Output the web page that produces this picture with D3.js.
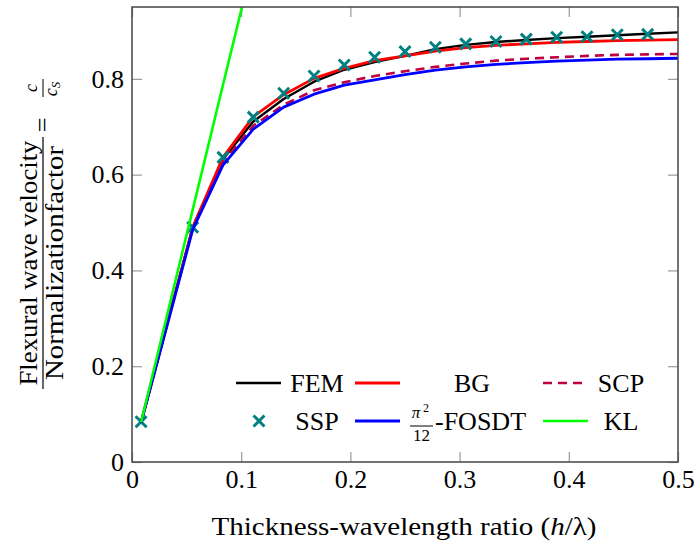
<!DOCTYPE html>
<html>
<head>
<meta charset="utf-8">
<script src="https://cdn.jsdelivr.net/npm/d3@7"></script>
<style>
  body { margin: 0; background: #fff; }
</style>
</head>
<body>
<div id="chart"></div>
<script>
// sample points (h/lambda)
const xs = [0.00833, 0.0556, 0.0833, 0.1111, 0.1389, 0.1667, 0.1944, 0.2222, 0.25,
  0.2778, 0.3056, 0.3333, 0.3611, 0.3889, 0.4167, 0.4444, 0.4722, 0.5];

const fem   = [0.083, 0.490, 0.632, 0.711, 0.758, 0.794, 0.819, 0.835, 0.848,
  0.862, 0.871, 0.877, 0.881, 0.885, 0.888, 0.891, 0.894, 0.897];
const bg    = [0.083, 0.490, 0.636, 0.721, 0.767, 0.801, 0.822, 0.838, 0.848,
  0.858, 0.865, 0.870, 0.873, 0.876, 0.878, 0.880, 0.881, 0.882];
const scp   = [0.083, 0.488, 0.625, 0.702, 0.746, 0.776, 0.793, 0.806, 0.816,
  0.825, 0.832, 0.838, 0.842, 0.845, 0.848, 0.850, 0.851, 0.852];
const fosdt = [0.082, 0.485, 0.620, 0.695, 0.741, 0.768, 0.787, 0.798, 0.809,
  0.818, 0.825, 0.830, 0.834, 0.837, 0.839, 0.841, 0.842, 0.843];

const sspX = xs.slice(0, 17);
const ssp  = [0.084, 0.490, 0.636, 0.720, 0.770, 0.806, 0.829, 0.845, 0.857,
  0.866, 0.873, 0.878, 0.883, 0.887, 0.888, 0.892, 0.893];

const klX = [0.00833, 0.0556, 0.0833, 0.1111];
const kl  = [0.083, 0.527, 0.787, 1.047];

const xTicks = [0, 0.1, 0.2, 0.3, 0.4, 0.5];
const yTicks = [0, 0.2, 0.4, 0.6, 0.8];

const W = 696, H = 541;
const margin = {top: 7, right: 18, bottom: 79, left: 132};
const FONT = "Liberation Serif";

const svg = d3.select("#chart").append("svg")
  .attr("width", W).attr("height", H);

const x = d3.scaleLinear().domain([0, 0.5]).range([margin.left, W - margin.right]);
const y = d3.scaleLinear().domain([0, 0.95]).range([H - margin.bottom, margin.top]);

svg.append("clipPath").attr("id", "clip")
  .append("rect")
  .attr("x", x(0)).attr("y", y(0.95))
  .attr("width", x(0.5) - x(0)).attr("height", y(0) - y(0.95));

// axes, ticks inside on all four sides
const fmt = d3.format("");
const styleAxis = g => {
  g.select(".domain").remove();
  g.selectAll(".tick line").attr("stroke", "#9a9a9a").attr("stroke-width", 1.2);
};

svg.append("g")
  .attr("transform", "translate(0," + y(0) + ")")
  .call(d3.axisBottom(x).tickValues(xTicks).tickSize(-10).tickPadding(8).tickFormat(fmt))
  .call(styleAxis);
svg.append("g")
  .attr("transform", "translate(0," + y(0.95) + ")")
  .call(d3.axisTop(x).tickValues(xTicks).tickSize(-10).tickFormat(""))
  .call(styleAxis);
svg.append("g")
  .attr("transform", "translate(" + x(0) + ",0)")
  .call(d3.axisLeft(y).tickValues(yTicks).tickSize(-10).tickPadding(8).tickFormat(fmt))
  .call(styleAxis);
svg.append("g")
  .attr("transform", "translate(" + x(0.5) + ",0)")
  .call(d3.axisRight(y).tickValues(yTicks).tickSize(-10).tickFormat(""))
  .call(styleAxis);

// lines
const line = d3.line().x(d => x(d[0])).y(d => y(d[1]));
const plot = svg.append("g").attr("clip-path", "url(#clip)");

const series = [
  {name: "FEM", xv: xs, yv: fem, color: "#000000", width: 2.4},
  {name: "BG", xv: xs, yv: bg, color: "#ff0000", width: 2.8},
  {name: "SCP", xv: xs, yv: scp, color: "#bf0040", width: 2.6, dash: "9,6"},
  {name: "FOSDT", xv: xs, yv: fosdt, color: "#0000ff", width: 2.8},
  {name: "KL", xv: klX, yv: kl, color: "#00ff00", width: 2.6}
];

series.slice(0, 3).forEach(s => drawLine(s));

// SSP markers
const cross = d3.symbol().type(d3.symbolX).size(80);
plot.selectAll(".ssp")
  .data(sspX.map((v, i) => [v, ssp[i]]))
  .enter()
  .append("path")
  .attr("class", "ssp")
  .attr("d", cross)
  .attr("transform", d => "translate(" + x(d[0]) + "," + y(d[1]) + ")")
  .attr("fill", "none")
  .attr("stroke", "#008080")
  .attr("stroke-width", 3);

series.slice(3).forEach(s => drawLine(s));

function drawLine(s) {
  plot.append("path")
    .datum(s.xv.map((v, i) => [v, s.yv[i]]))
    .attr("d", line)
    .attr("fill", "none")
    .attr("stroke", s.color)
    .attr("stroke-width", s.width)
    .attr("stroke-linejoin", "round")
    .attr("stroke-dasharray", s.dash || null);
}

// frame
svg.append("rect")
  .attr("x", x(0)).attr("y", y(0.95))
  .attr("width", x(0.5) - x(0)).attr("height", y(0) - y(0.95))
  .attr("fill", "none")
  .attr("stroke", "#444")
  .attr("stroke-width", 1.5);

// legend
const legend = svg.append("g");
const colX = [236, 355, 543];
const textX = [317, 472, 621];
const rowY = [383, 421];

function legLine(col, row, s) {
  legend.append("line")
    .attr("x1", colX[col]).attr("x2", colX[col] + 45)
    .attr("y1", rowY[row]).attr("y2", rowY[row])
    .attr("stroke", s.color).attr("stroke-width", s.width)
    .attr("stroke-dasharray", s.dash || null);
}
function legText(col, row, txt) {
  return legend.append("text")
    .attr("x", textX[col]).attr("y", rowY[row] + 9)
    .attr("text-anchor", "middle")
    .text(txt);
}

legLine(0, 0, series[0]); legText(0, 0, "FEM");
legLine(1, 0, series[1]); legText(1, 0, "BG");
legLine(2, 0, series[2]); legText(2, 0, "SCP");
legend.append("path")
  .attr("d", cross)
  .attr("transform", "translate(" + (colX[0] + 23) + "," + rowY[1] + ")")
  .attr("fill", "none").attr("stroke", "#008080").attr("stroke-width", 3);
legText(0, 1, "SSP");
legLine(1, 1, series[3]);
// pi^2/12 fraction then -FOSDT
legend.append("text").attr("x", 416).attr("y", rowY[1] - 3).attr("text-anchor", "middle")
  .attr("class", "small").attr("font-style", "italic").text("π");
legend.append("text").attr("x", 423).attr("y", rowY[1] - 9).attr("class", "tiny").text("2");
legend.append("line").attr("x1", 410).attr("x2", 433)
  .attr("y1", rowY[1] + 5).attr("y2", rowY[1] + 5)
  .attr("stroke", "#000").attr("stroke-width", 1);
legend.append("text").attr("x", 421.5).attr("y", rowY[1] + 20).attr("text-anchor", "middle")
  .attr("class", "small").text("12");
legend.append("text").attr("x", 435).attr("y", rowY[1] + 9).text("-FOSDT");
legLine(2, 1, series[4]); legText(2, 1, "KL");

// x axis label
const xl = svg.append("text")
  .attr("x", (x(0) + x(0.5)) / 2 - 1)
  .attr("y", 535)
  .attr("text-anchor", "middle")
  .attr("textLength", 385)
  .attr("lengthAdjust", "spacingAndGlyphs");
xl.append("tspan").text("Thickness-wavelength ratio (");
xl.append("tspan").attr("font-style", "italic").text("h");
xl.append("tspan").text("/λ)");

// y axis label: fraction = c / c_S, rotated
const yl = svg.append("g")
  .attr("transform", "translate(43,263) rotate(-90)");
yl.append("text").attr("x", 0).attr("y", -6).attr("text-anchor", "middle")
  .attr("textLength", 245).attr("lengthAdjust", "spacingAndGlyphs")
  .text("Flexural wave velocity");
yl.append("line").attr("x1", -126).attr("x2", 126).attr("y1", 0).attr("y2", 0)
  .attr("stroke", "#000").attr("stroke-width", 1.2);
yl.append("text").attr("x", 0).attr("y", 20).attr("text-anchor", "middle")
  .attr("textLength", 234).attr("lengthAdjust", "spacingAndGlyphs")
  .text("Normalizationfactor");
yl.append("text").attr("x", 138).attr("y", 8).attr("text-anchor", "middle").text("=");
yl.append("text").attr("x", 175).attr("y", -6).attr("text-anchor", "middle")
  .attr("class", "math").text("c");
yl.append("line").attr("x1", 166).attr("x2", 184).attr("y1", 0).attr("y2", 0)
  .attr("stroke", "#000").attr("stroke-width", 1);
const cs = yl.append("text").attr("x", 174).attr("y", 14).attr("text-anchor", "middle")
  .attr("class", "math");
cs.append("tspan").text("c");
cs.append("tspan").attr("dy", 3).attr("font-size", 13).text("S");

// fonts: set on every text element directly
svg.selectAll("text")
  .attr("font-family", FONT)
  .style("font-family", FONT)
  .style("font-size", "26px");
svg.selectAll("text.small").style("font-size", "17px");
svg.selectAll("text.tiny").style("font-size", "12px");
svg.selectAll("text.math").style("font-size", "18px").style("font-style", "italic");
</script>
</body>
</html>
